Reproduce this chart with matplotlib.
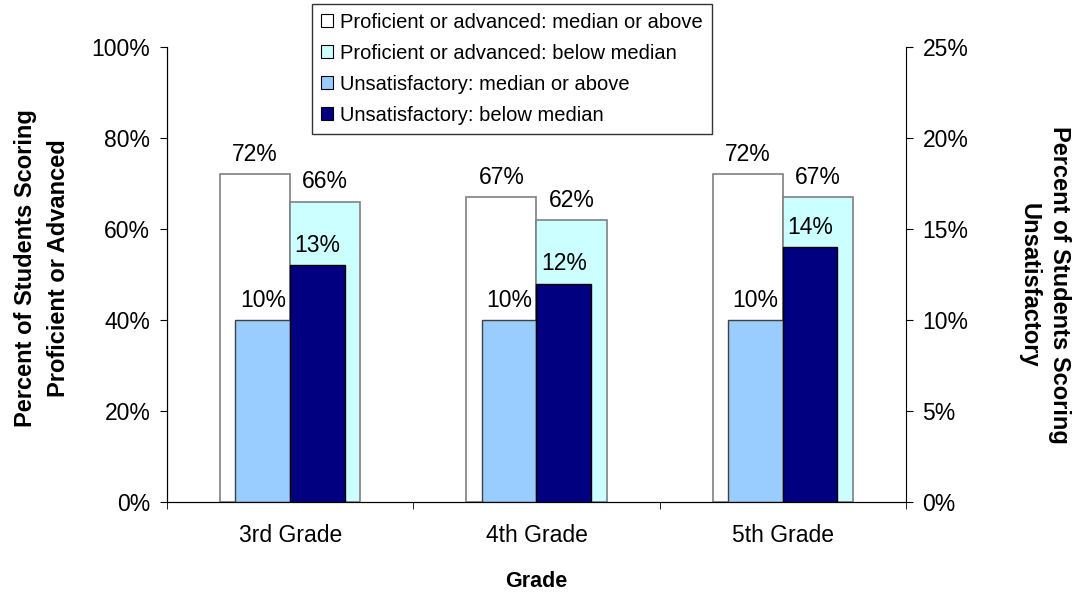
import matplotlib.pyplot as plt
import numpy as np
from matplotlib.patches import Patch

grades = ["3rd Grade", "4th Grade", "5th Grade"]
prof_above = [72, 67, 72]
prof_below = [66, 62, 67]
unsat_above = [10, 10, 10]
unsat_below = [13, 12, 14]

series_names = ["Proficient or advanced: median or above",
                "Proficient or advanced: below median",
                "Unsatisfactory: median or above",
                "Unsatisfactory: below median"]
colors = ["#FFFFFF", "#CCFFFF", "#99CCFF", "#000080"]


def main():
    plt.rcParams['font.family'] = ['Liberation Sans', 'DejaVu Sans']
    fig = plt.figure(figsize=(10.81, 5.93), dpi=100)
    ax = fig.add_axes([0.1545, 0.1535, 0.6835, 0.7672])
    ax2 = ax.twinx()

    x = np.arange(len(grades))
    wp = 0.285
    wu = 0.222
    fs = 16.5

    b1 = ax.bar(x - wp / 2, prof_above, wp, color=colors[0], edgecolor="#808080", linewidth=1.2, zorder=1)
    b2 = ax.bar(x + wp / 2, prof_below, wp, color=colors[1], edgecolor="#808080", linewidth=1.2, zorder=1)
    b3 = ax2.bar(x - wu / 2, unsat_above, wu, color=colors[2], edgecolor="#404040", linewidth=1.0, zorder=2)
    b4 = ax2.bar(x + wu / 2, unsat_below, wu, color=colors[3], edgecolor="#000000", linewidth=1.0, zorder=2)

    for bars, vals, a in [(b1, prof_above, ax), (b2, prof_below, ax),
                          (b3, unsat_above, ax2), (b4, unsat_below, ax2)]:
        for b, v in zip(bars, vals):
            a.annotate(f"{v}%", (b.get_x() + b.get_width() / 2, v),
                       xytext=(0, 6), textcoords="offset points",
                       ha="center", va="bottom", fontsize=fs, zorder=5)

    ax.set_xlim(-0.5, 2.5)
    ax.set_ylim(0, 100)
    ax2.set_ylim(0, 25)
    ax.set_yticks(range(0, 101, 20))
    ax.set_yticklabels([f"{t}%" for t in range(0, 101, 20)], fontsize=fs)
    ax2.set_yticks(range(0, 26, 5))
    ax2.set_yticklabels([f"{t}%" for t in range(0, 26, 5)], fontsize=fs)

    ax.set_xticks(x)
    ax.set_xticklabels(grades, fontsize=fs)
    ax.tick_params(axis="x", which="major", length=0, pad=16)
    ax.set_xticks([-0.5, 0.5, 1.5, 2.5], minor=True)
    ax.tick_params(axis="x", which="minor", length=5, direction="out")
    ax.tick_params(axis="y", length=5, direction="out", pad=7)
    ax2.tick_params(axis="y", length=5, direction="out", pad=7)

    for a in (ax, ax2):
        a.spines["top"].set_visible(False)
    ax.spines["right"].set_visible(False)

    ax.set_xlabel("Grade", fontsize=15.5, fontweight="bold", labelpad=17)
    fig.text(42 / 1081, 1 - 268 / 593, "Percent of Students Scoring\nProficient or Advanced",
             fontsize=17, fontweight="bold", rotation=90, ha="center", va="center",
             linespacing=1.55)
    fig.text(1044 / 1081, 1 - 285 / 593, "Percent of Students Scoring\nUnsatisfactory",
             fontsize=17, fontweight="bold", rotation=270, ha="center", va="center",
             linespacing=1.4)

    handles = [Patch(facecolor=c, edgecolor="black", linewidth=0.8) for c in colors]
    leg = fig.legend(handles, series_names, loc="upper center",
                     bbox_to_anchor=(0.4735, 0.994), fontsize=14.5,
                     frameon=True, fancybox=False, edgecolor="black",
                     handlelength=0.6, handleheight=0.6, handletextpad=0.35,
                     labelspacing=0.6, borderpad=0.45, borderaxespad=0)
    leg.get_frame().set_linewidth(1.0)

    fig.savefig("out.png", dpi=100)


if __name__ == '__main__':
    main()
